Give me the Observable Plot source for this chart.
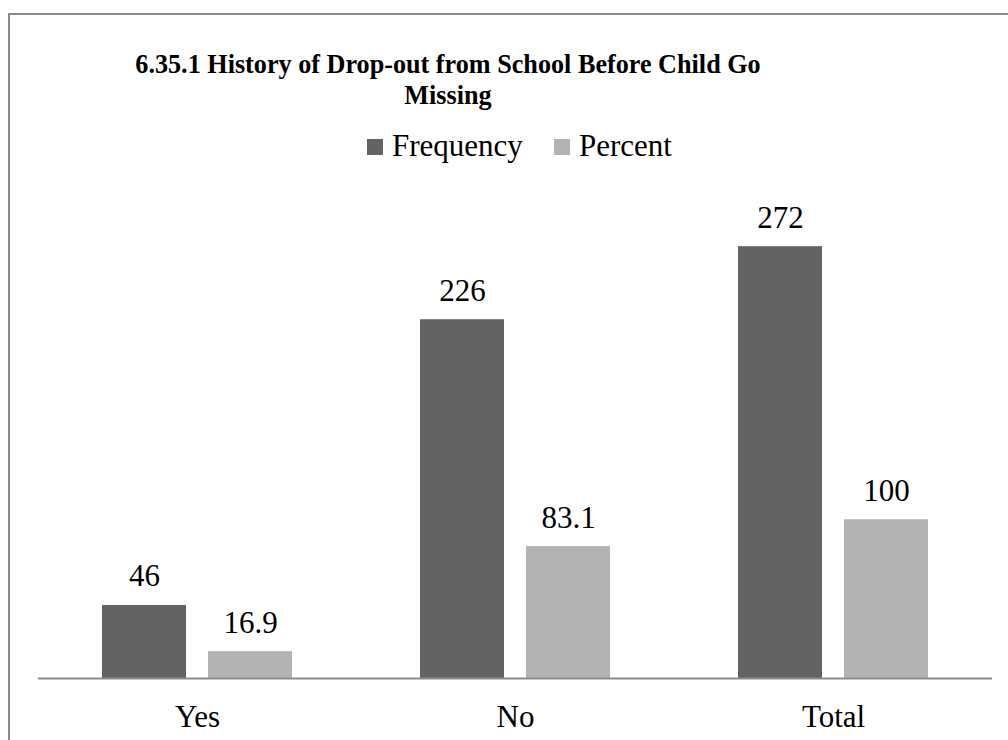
<!DOCTYPE html>
<html>
<head>
<meta charset="utf-8">
<script src="https://cdn.jsdelivr.net/npm/d3@7"></script>
<script src="https://cdn.jsdelivr.net/npm/@observablehq/plot@0.6"></script>
<style>
  html, body { margin: 0; padding: 0; background: #fff; overflow: hidden; }
  #wrap { position: relative; width: 1008px; height: 740px; overflow: hidden; background: #fff;
          font-family: "Liberation Serif", "Times New Roman", serif; color: #000; }
  #frame { position: absolute; left: 8px; top: 13px; width: 1100px; height: 800px;
           border-top: 2px solid #8a8a8a; border-left: 2px solid #8a8a8a; box-sizing: border-box; }
  #title { position: absolute; left: 448px; top: 48px; transform: translateX(-50%) scaleX(0.935);
           font-size: 28px; line-height: 31px; font-weight: bold; text-align: center; white-space: nowrap; }
  .sw { position: absolute; width: 16px; height: 16px; top: 139px; }
  .lt { position: absolute; top: 130px; font-size: 31px; line-height: 31px; white-space: nowrap; }
  #chart { position: absolute; left: 0; top: 160px; }
</style>
</head>
<body>
<div id="wrap">
  <div id="frame"></div>
  <div id="title">6.35.1 History of Drop-out from School Before Child Go<br>Missing</div>
  <div id="legend"></div>
  <div id="chart"></div>
</div>
<script>
const categories = ["Yes", "No", "Total"];
const frequency = [46, 226, 272];
const percent = [16.9, 83.1, 100];
const seriesNames = ["Frequency", "Percent"];
const seriesColors = ["#636363", "#b3b3b3"];
const percentLabels = ["16.9", "83.1", "100"];

const freqData = categories.map((c, i) => ({category: c, value: frequency[i], label: String(frequency[i])}));
const pctData = categories.map((c, i) => ({category: c, value: percent[i], label: percentLabels[i]}));

// Legend
const legend = document.getElementById("legend");
const legendPos = [{sw: 367, txt: 392}, {sw: 554, txt: 579}];
seriesNames.forEach((name, i) => {
  const s = document.createElement("div");
  s.className = "sw";
  s.style.left = legendPos[i].sw + "px";
  s.style.background = seriesColors[i];
  legend.appendChild(s);
  const t = document.createElement("div");
  t.className = "lt";
  t.style.left = legendPos[i].txt + "px";
  t.textContent = name;
  legend.appendChild(t);
});

const W = 1008, H = 580;
const barW = 84, offset = 53;
const bandW = W - 38 - 16;
const inset = (bandW / 3 - barW) / 2;
const fontFam = "'Liberation Serif', 'Times New Roman', serif";

const plot = Plot.plot({
  width: W,
  height: H,
  marginLeft: 38,
  marginRight: 16,
  marginBottom: 62,
  marginTop: 518 - 300 * 1.5875,
  style: {fontFamily: fontFam, fontSize: "31px", background: "transparent", color: "#000"},
  x: {domain: categories, padding: 0, label: null},
  y: {domain: [0, 300], axis: null},
  marks: [
    Plot.barY(freqData, {x: "category", y: "value", fill: seriesColors[0], dx: -offset, insetLeft: inset, insetRight: inset}),
    Plot.barY(pctData, {x: "category", y: "value", fill: seriesColors[1], dx: offset, insetLeft: inset, insetRight: inset}),
    Plot.text(freqData, {x: "category", y: "value", text: "label", dx: -offset, dy: -19, lineAnchor: "bottom", fontSize: 31, fontFamily: fontFam, fill: "#000"}),
    Plot.text(pctData, {x: "category", y: "value", text: "label", dx: offset, dy: -19, lineAnchor: "bottom", fontSize: 31, fontFamily: fontFam, fill: "#000"}),
    Plot.ruleY([0], {stroke: "#8c8c8c", strokeWidth: 2}),
    Plot.axisX({tickSize: 0, tickPadding: 26, fontSize: 31, fontFamily: fontFam, fill: "#000", label: null})
  ]
});
document.getElementById("chart").appendChild(plot);
</script>
</body>
</html>
